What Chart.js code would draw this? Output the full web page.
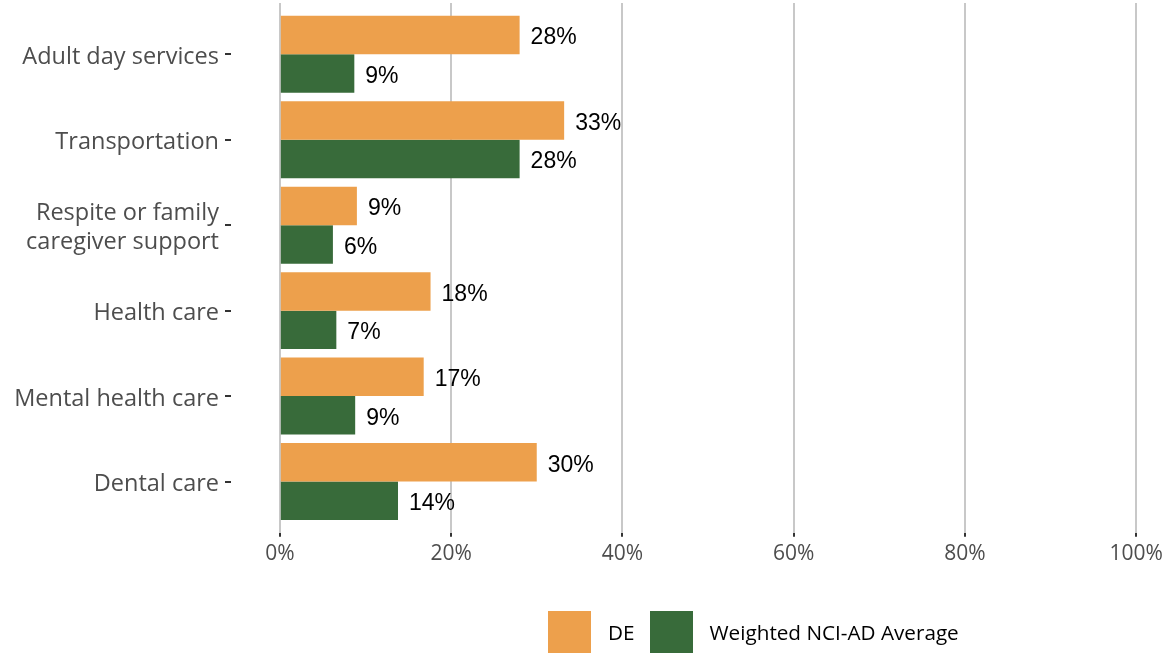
<!DOCTYPE html>
<html>
<head>
<meta charset="utf-8">
<script src="https://cdn.jsdelivr.net/npm/chart.js@4/dist/chart.umd.min.js"></script>
<style>
  html, body { margin: 0; padding: 0; background: #fff; }
  #wrap { position: relative; width: 1168px; height: 655px; }
  #legend { position: absolute; left: 548px; top: 611px; display: flex; align-items: center;
            font-family: "Open Sans", sans-serif; font-size: 20.7px; color: #000; }
  .sw { width: 43px; height: 42px; margin-right: 17px; }
  .lab { margin-right: 15px; }
</style>
</head>
<body>
<div id="wrap">
  <canvas id="c" width="1168" height="655"></canvas>
  <div id="legend"></div>
</div>
<script>
const categories = [
  "Adult day services",
  "Transportation",
  ["Respite or family", "caregiver support"],
  "Health care",
  "Mental health care",
  "Dental care"
];
const seriesNames = ["DE", "Weighted NCI-AD Average"];
const seriesColors = ["#EDA04C", "#386B3A"];
const deValues = [28, 33.2, 9, 17.6, 16.8, 30];
const nciValues = [8.7, 28, 6.2, 6.6, 8.8, 13.8];
const xTickValues = [0, 20, 40, 60, 80, 100];

const allSeries = [deValues, nciValues];

const datasets = allSeries.map((vals, s) => ({
  label: seriesNames[s],
  data: vals.map((v, i) => ({ x: v, y: i })),
  backgroundColor: seriesColors[s],
  borderWidth: 0,
  categoryPercentage: 0.9,
  barPercentage: 1.0
}));

const valueLabels = {
  id: 'valueLabels',
  afterDatasetsDraw(chart) {
    const ctx = chart.ctx;
    ctx.save();
    ctx.font = '23px "Liberation Sans", Arial, sans-serif';
    ctx.fillStyle = '#000';
    ctx.textAlign = 'left';
    ctx.textBaseline = 'middle';
    chart.data.datasets.forEach((ds, di) => {
      const meta = chart.getDatasetMeta(di);
      meta.data.forEach((el, i) => {
        const v = allSeries[di][i];
        ctx.fillText(Math.round(v) + '%', el.x + 11, el.y + 3);
      });
    });
    ctx.restore();
  }
};

new Chart(document.getElementById('c'), {
  type: 'bar',
  data: { datasets },
  options: {
    indexAxis: 'y',
    responsive: false,
    animation: false,
    layout: { padding: { top: 3, right: 2, bottom: 83, left: 0 } },
    plugins: { legend: { display: false }, tooltip: { enabled: false } },
    scales: {
      x: {
        type: 'linear',
        min: -5.7,
        max: 103.3,
        offset: false,
        afterBuildTicks(scale) { scale.ticks = xTickValues.map(v => ({ value: v })); },
        grid: { color: '#C8C8C8', lineWidth: 2, tickColor: '#333', tickLength: 4, tickWidth: 2, offset: false },
        border: { display: false },
        ticks: {
          callback: v => v + '%',
          color: '#4D4D4D',
          padding: 5,
          maxRotation: 0,
          font: { family: '"Open Sans", sans-serif', size: 21 }
        }
      },
      y: {
        type: 'linear',
        reverse: true,
        min: -0.6,
        max: 5.6,
        offset: false,
        afterBuildTicks(scale) { scale.ticks = categories.map((c, i) => ({ value: i })); },
        afterFit(scale) { scale.width = 231; scale.paddingTop = 0; scale.paddingBottom = 0; },
        grid: { drawOnChartArea: false, drawTicks: true, tickLength: 6, tickColor: '#333', lineWidth: 2, tickWidth: 2, offset: false },
        border: { display: false },
        ticks: {
          callback: v => categories[v],
          color: '#4D4D4D',
          padding: 6,
          labelOffset: 3,
          font: { family: '"Open Sans", sans-serif', size: 23.5, lineHeight: 1.24 }
        }
      }
    }
  },
  plugins: [valueLabels]
});

const legend = document.getElementById('legend');
seriesNames.forEach((name, s) => {
  const sw = document.createElement('div');
  sw.className = 'sw';
  sw.style.background = seriesColors[s];
  const lab = document.createElement('div');
  lab.className = 'lab';
  lab.textContent = name;
  legend.appendChild(sw);
  legend.appendChild(lab);
});
</script>
</body>
</html>
